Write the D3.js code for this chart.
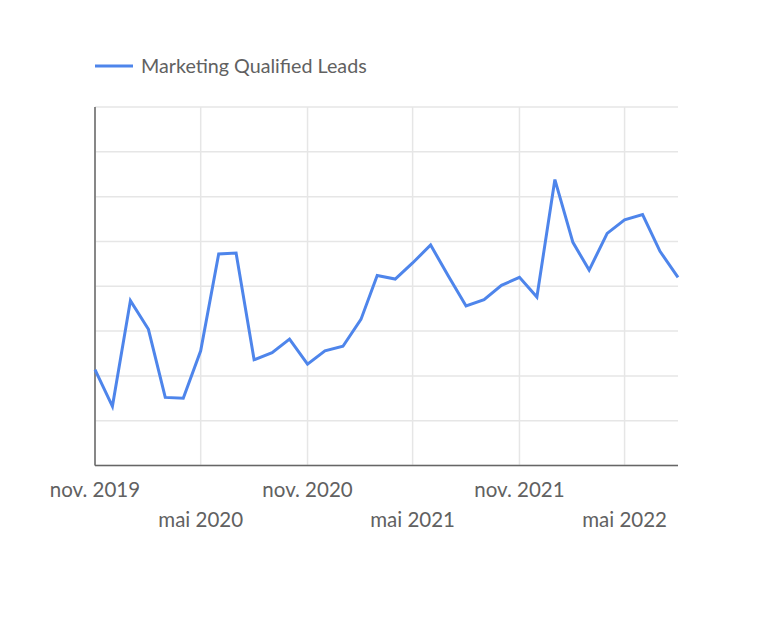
<!DOCTYPE html>
<html>
<head>
<meta charset="utf-8">
<script src="https://cdn.jsdelivr.net/npm/d3@7"></script>
<style>
  body { margin: 0; background: #fff; }
  text { font-family: Lato, "Open Sans", sans-serif; }
</style>
</head>
<body>
<div id="chart"></div>
<script>
// monthly values, nov 2019 -> aug 2022
var startMonth = "2019-11";
var seriesName = "Marketing Qualified Leads";
var leads = [107, 66, 184, 152, 76, 75, 128, 236, 237, 118, 126, 141,
             113, 128, 133, 163, 212, 208, 226, 246, 212, 178, 185, 201,
             210, 188, 319, 249, 218, 259, 274, 280, 239, 210];
var yTicks = [0, 50, 100, 150, 200, 250, 300, 350, 400];
var xTickMonths = ["2019-11", "2020-05", "2020-11", "2021-05", "2021-11", "2022-05"];

var frMonths = ["janv.", "févr.", "mars", "avr.", "mai", "juin", "juil.", "août", "sept.", "oct.", "nov.", "déc."];
var parseMonth = d3.timeParse("%Y-%m");

var start = parseMonth(startMonth);
var data = leads.map(function(v, i) {
	return { date: d3.timeMonth.offset(start, i), value: v };
});

var width = 758, height = 634;
var margin = { top: 107, right: 80, bottom: 168.5, left: 95 };

var svg = d3.select("#chart")
	.append("svg")
		.attr("width", width)
		.attr("height", height);

var x = d3.scaleTime()
	.domain(d3.extent(data, d => d.date))
	.range([margin.left, width - margin.right]);

var y = d3.scaleLinear()
	.domain([yTicks[0], yTicks[yTicks.length - 1]])
	.range([height - margin.bottom, margin.top]);

// horizontal grid
svg.append("g")
	.selectAll("line")
	.data(yTicks)
	.enter()
		.append("line")
		.attr("x1", margin.left)
		.attr("x2", width - margin.right)
		.attr("y1", d => y(d))
		.attr("y2", d => y(d))
		.attr("stroke", "#e6e6e6")
		.attr("stroke-width", 1.5);

// vertical grid
var tickDates = xTickMonths.map(parseMonth);
svg.append("g")
	.selectAll("line")
	.data(tickDates)
	.enter()
		.append("line")
		.attr("x1", d => x(d))
		.attr("x2", d => x(d))
		.attr("y1", margin.top)
		.attr("y2", height - margin.bottom)
		.attr("stroke", "#e6e6e6")
		.attr("stroke-width", 1.5);

// axes lines
svg.append("line")
	.attr("x1", margin.left).attr("x2", margin.left)
	.attr("y1", margin.top).attr("y2", height - margin.bottom)
	.attr("stroke", "#666").attr("stroke-width", 1.5);
svg.append("line")
	.attr("x1", margin.left).attr("x2", width - margin.right)
	.attr("y1", height - margin.bottom).attr("y2", height - margin.bottom)
	.attr("stroke", "#666").attr("stroke-width", 1.5);

// x labels, staggered on two rows
svg.append("g")
	.selectAll("text")
	.data(tickDates)
	.enter()
		.append("text")
		.attr("x", d => x(d))
		.attr("y", (d, i) => i % 2 === 0 ? 497 : 527)
		.attr("text-anchor", "middle")
		.attr("font-size", 20.5)
		.attr("fill", "#616161")
		.text(d => frMonths[d.getMonth()] + " " + d.getFullYear());

// the line
var line = d3.line()
	.x(d => x(d.date))
	.y(d => y(d.value));

svg.append("path")
	.datum(data)
	.attr("d", line)
	.attr("fill", "none")
	.attr("stroke", "#4e85eb")
	.attr("stroke-width", 3)
	.attr("stroke-linejoin", "miter");

// legend
var legend = svg.append("g");
legend.append("line")
	.attr("x1", 95).attr("x2", 133)
	.attr("y1", 66).attr("y2", 66)
	.attr("stroke", "#4e85eb")
	.attr("stroke-width", 3);
legend.append("text")
	.attr("x", 141)
	.attr("y", 73)
	.attr("font-size", 19.7)
	.attr("fill", "#616161")
	.text(seriesName);
</script>
</body>
</html>
